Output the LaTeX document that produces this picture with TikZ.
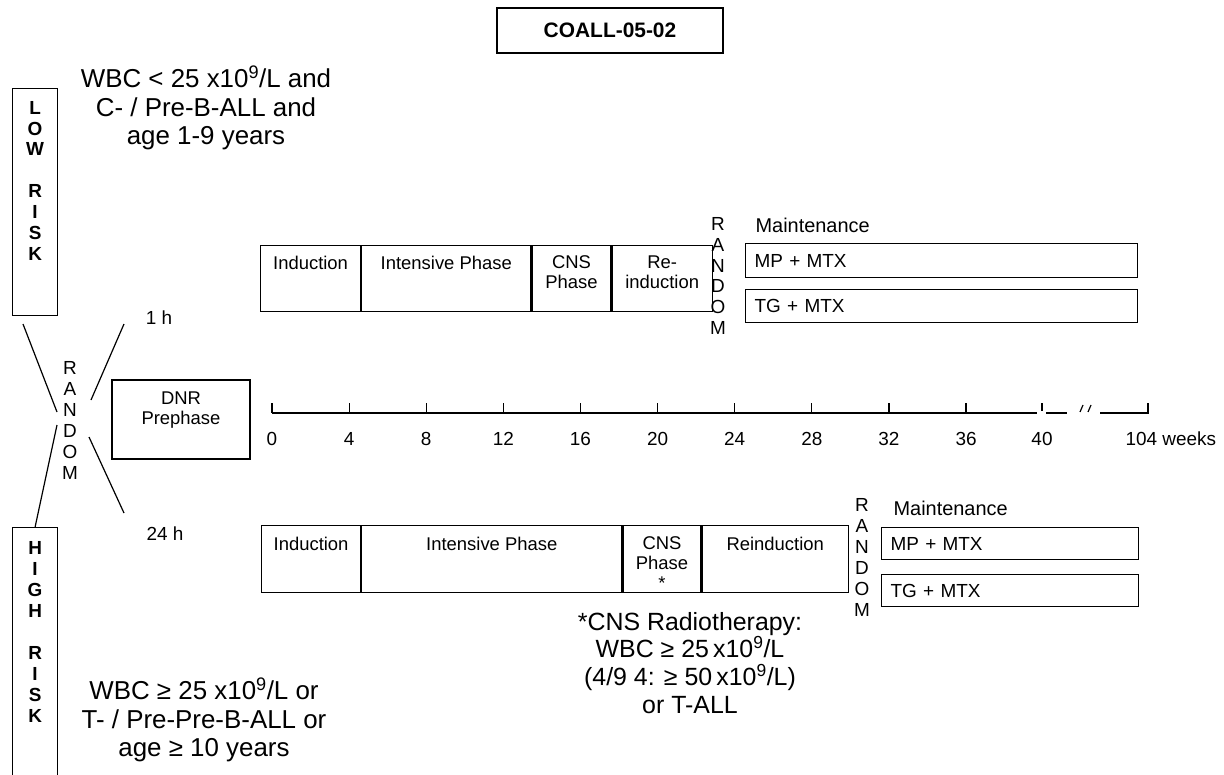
\documentclass[tikz,border=0pt]{standalone}
\usepackage{fontspec}
\setmainfont{Liberation Sans}
\usetikzlibrary{positioning,calc}

\begin{document}
\begin{tikzpicture}[x=1bp, y=-1bp, line width=1.2bp,
  every node/.style={inner sep=0pt, font=\fontsize{19}{21}\selectfont},
  phasebox/.style={draw, rectangle, anchor=north west},
  boxtext/.style={anchor=north, align=center, font=\fontsize{18.5}{20}\selectfont},
  mtbox/.style={draw, rectangle, anchor=north west, inner xsep=9bp, align=left, font=\fontsize{19}{21}\selectfont},
  riskbox/.style={draw, rectangle, minimum width=45bp, anchor=north west},
  risktext/.style={anchor=north, align=center, font=\bfseries\fontsize{19}{21}\selectfont},
  randtext/.style={align=center, font=\fontsize{19}{21}\selectfont},
  crit/.style={align=center, font=\fontsize{26}{28.5}\selectfont}]
\useasboundingbox (0,0) rectangle (1224,775);

\node[draw, minimum width=226bp, minimum height=45bp, font=\bfseries\fontsize{21}{24}\selectfont] (title) at (610,30.5) {COALL-05-02};

\node[riskbox, minimum height=227bp] (low) at (12,88) {};
\node[risktext] (lowlbl) at ([yshift=-12.5bp]low.north) {L\\O\\W\\[21bp]R\\I\\S\\K};
\node[riskbox, minimum height=270bp] (high) at (12,527) {};
\node[risktext] (highlbl) at ([yshift=-14bp]high.north) {H\\I\\G\\H\\[21bp]R\\I\\S\\K};
\node[crit] (lowcrit) at (206,108) {WBC < 25 x10\textsuperscript{9}/L and\\C- / Pre-B-ALL and\\age 1-9 years};
\node[crit] (highcrit) at (204,720) {WBC ≥ 25 x10\textsuperscript{9}/L or\\T- / Pre-Pre-B-ALL or\\age ≥ 10 years};

\node[randtext] (rand0) at (70,420.5) {R\\A\\N\\D\\O\\M};
\coordinate (xa) at (23,324);
\coordinate (xb) at (57,412);
\coordinate (xc) at (57,425);
\coordinate (xd) at (124,324);
\coordinate (xe) at (91,400);
\coordinate (xf) at (89,437);
\coordinate (xg) at (124,513);
\draw (xa) -- (xb);
\draw (xc) -- (high.north);
\draw (xe) -- (xd);
\draw (xf) -- (xg);
\node (h1) at (159,318) {1 h};
\node (h24) at (165,534) {24 h};

\node[draw, minimum width=138bp, minimum height=79bp] (dnr) at (181,419.5) {};
\node[boxtext] (dnrlbl) at ([yshift=-11.5bp]dnr.north) {DNR\\Prephase};

\node[phasebox, minimum width=100bp, minimum height=66bp] (tind) at (260,245) {};
\node[phasebox, minimum width=169bp, minimum height=66bp] (tint) at (tind.north east) {};
\node[phasebox, minimum width=79bp, minimum height=66bp] (tcns) at (tint.north east) {};
\node[phasebox, minimum width=100bp, minimum height=66bp] (trei) at (tcns.north east) {};
\draw[line width=2.4bp] (tind.north east) -- (tind.south east);
\draw[line width=2.4bp] (tint.north east) -- (tint.south east);
\node[boxtext] at ([yshift=-10.5bp]tind.north) {Induction};
\node[boxtext] at ([yshift=-10.5bp]tint.north) {Intensive Phase};
\node[boxtext] at ([yshift=-10.5bp]tcns.north) {CNS\\Phase};
\node[boxtext] at ([yshift=-10.5bp]trei.north) {Re-\\induction};

\node[randtext] (rand1) at (718,276) {R\\A\\N\\D\\O\\M};
\node[anchor=west, font=\fontsize{20}{22}\selectfont] (tmain) at (755,225) {Maintenance};
\node[mtbox, text width=374bp, minimum height=34bp] (tmp) at (745,243) {MP + MTX};
\node[mtbox, text width=374bp, minimum height=33bp] (ttg) at (745,289) {TG + MTX};

\foreach \w in {0,4,...,36} {
  \draw ({272+19.28*\w},403) -- ({272+19.28*\w},413);
  \node (wk\w) at ({272+19.28*\w},439) {\w};
}
\draw (272,413) -- (1037,413);
\draw (1042,403) -- (1042,411);
\draw (1046,413) -- (1067,413);
\draw (1080,412) -- (1083,405) (1088,412) -- (1091,405);
\draw (1100,413) -- (1148,413) -- (1148,403);
\node (wk40) at (1042,439) {40};
\node[anchor=west] (wk104) at (1125,439) {104 weeks};

\node[phasebox, minimum width=99bp, minimum height=67bp] (bind) at (261,525) {};
\node[phasebox, minimum width=260bp, minimum height=67bp] (bint) at (bind.north east) {};
\node[phasebox, minimum width=78bp, minimum height=67bp] (bcns) at (bint.north east) {};
\node[phasebox, minimum width=146bp, minimum height=67bp] (brei) at (bcns.north east) {};
\draw[line width=2.4bp] (bint.north east) -- (bint.south east);
\node[boxtext] at ([yshift=-11.5bp]bind.north) {Induction};
\node[boxtext] at ([yshift=-11.5bp]bint.north) {Intensive Phase};
\node[boxtext] at ([yshift=-11.5bp]bcns.north) {CNS\\Phase\\*};
\node[boxtext] at ([yshift=-11.5bp]brei.north) {Reinduction};

\node[randtext] (rand2) at (862,557.5) {R\\A\\N\\D\\O\\M};
\node[anchor=west, font=\fontsize{20}{22}\selectfont] (bmain) at (893,508) {Maintenance};
\node[mtbox, text width=239bp, minimum height=32bp] (bmp) at (881,527) {MP + MTX};
\node[mtbox, text width=239bp, minimum height=32bp] (btg) at (881,574) {TG + MTX};

\node[crit, font=\fontsize{25}{28}\selectfont] (cnsnote) at (690,663) {*CNS Radiotherapy:\\WBC ≥ 25\,x10\textsuperscript{9}/L\\(4/9 4: ≥ 50\,x10\textsuperscript{9}/L)\\or T-ALL};
\end{tikzpicture}
\end{document}
